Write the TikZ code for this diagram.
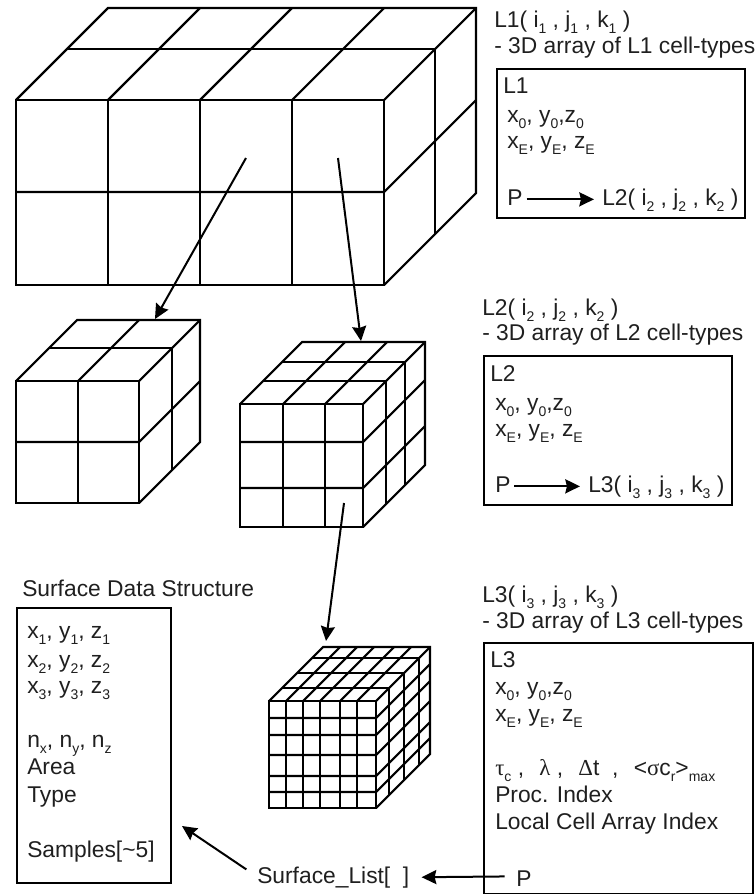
\documentclass[tikz,border=0pt]{standalone}
\usepackage{fontspec}
\setmainfont{Liberation Sans}
\newfontfamily\symbfont{Liberation Serif}
\usetikzlibrary{arrows.meta}
\def\idx#1{\raisebox{-0.5ex}{\fontsize{10.5}{10.5}\selectfont #1}}
\def\sym#1{{\symbfont #1}}
\tikzset{
    cellline/.style={line width=1.6pt, line join=miter},
    boxline/.style={line width=1.7pt},
    pointer/.style={line width=1.5pt, -{Stealth[length=11pt,width=10.5pt,inset=1.2pt]}},
    lbl/.style={anchor=base west, inner sep=0pt, text height=10pt, text depth=1.5pt,
        text=black!88, font=\fontsize{17.1}{18}\selectfont},
}
\newcommand{\cellcube}[8]{
    \draw[cellline] (#1,#3) rectangle (#2,#4);
    \draw[cellline] (#1,#3) -- ({#1+#5},{#3-#5}) -- ({#2+#5},{#3-#5}) -- ({#2+#5},{#4-#5}) -- (#2,#4);
    \draw[cellline] (#2,#3) -- ({#2+#5},{#3-#5});
    \foreach \cx in {#6} {
        \draw[cellline] (\cx,#3) -- (\cx,#4);
        \draw[cellline] (\cx,#3) -- ({\cx+#5},{#3-#5});
    }
    \foreach \cy in {#7} {
        \draw[cellline] (#1,\cy) -- (#2,\cy) -- ({#2+#5},{\cy-#5});
    }
    \foreach \cd in {#8} {
        \draw[cellline] ({#1+\cd},{#3-\cd}) -- ({#2+\cd},{#3-\cd}) -- ({#2+\cd},{#4-\cd});
    }
}

\begin{document}
\begin{tikzpicture}[x=0.75pt,y=-0.75pt]
        \useasboundingbox (0,0) rectangle (756,894);

        \cellcube{16}{384}{100}{285}{92}{108,200,292}{192}{51}
        \cellcube{16}{139}{381}{503}{61}{78}{442}{33}
        \cellcube{240}{363}{404}{527}{62}{283,325}{442,488}{23,42}
        \cellcube{269}{376}{701}{808}{54}{286,303,320,340,357}{718,735,755,776,792}{13,28,43}

        \coordinate (cellone) at (246,158);
        \coordinate (cubetwo) at (155,319);
        \coordinate (celltwo) at (338,158);
        \coordinate (cubethree) at (361,341);
        \coordinate (cellthree) at (344,503);
        \coordinate (cubefour) at (326,641);
        \coordinate (surfend) at (182,826);
        \draw[pointer] (cellone) -- (cubetwo);
        \draw[pointer] (celltwo) -- (cubethree);
        \draw[pointer] (cellthree) -- (cubefour);

        \node[lbl] (headone) at (494,27) {L1( i\idx{1} , j\idx{1} , k\idx{1} )};
        \node[lbl] (arrayone) at (494,53) {- 3D array of L1 cell-types};
        \node[boxline,draw,minimum width=186pt,minimum height=111.75pt,anchor=north west] (boxone) at (496,68) {};
        \node[lbl] (nameone) at (503,93) {L1};
        \node[lbl] (startone) at (507,122) {x\idx{0}, y\idx{0},z\idx{0}};
        \node[lbl] (endone) at (507,148) {x\idx{E}, y\idx{E}, z\idx{E}};
        \node[lbl] (pone) at (507,205) {P};
        \node[lbl] (refone) at (602,205) {L2( i\idx{2} , j\idx{2} , k\idx{2} )};
        \draw[pointer,shorten <=3pt,shorten >=6pt] (pone.east) -- (refone.west);

        \node[lbl] (headtwo) at (482,315) {L2( i\idx{2} , j\idx{2} , k\idx{2} )};
        \node[lbl] (arraytwo) at (482,340) {- 3D array of L2 cell-types};
        \node[boxline,draw,minimum width=186pt,minimum height=111.75pt,anchor=north west] (boxtwo) at (483,355) {};
        \node[lbl] (nametwo) at (490,381) {L2};
        \node[lbl] (starttwo) at (495,410) {x\idx{0}, y\idx{0},z\idx{0}};
        \node[lbl] (endtwo) at (495,436) {x\idx{E}, y\idx{E}, z\idx{E}};
        \node[lbl] (ptwo) at (495,492) {P};
        \node[lbl] (reftwo) at (588,492) {L3( i\idx{3} , j\idx{3} , k\idx{3} )};
        \draw[pointer,shorten <=2.5pt,shorten >=6pt] (ptwo.east) -- (reftwo.west);

        \node[lbl] (headthree) at (482,602) {L3( i\idx{3} , j\idx{3} , k\idx{3} )};
        \node[lbl] (arraythree) at (482,628) {- 3D array of L3 cell-types};
        \node[boxline,draw,minimum width=201.75pt,minimum height=188.25pt,anchor=north west] (boxthree) at (483,642) {};
        \node[lbl] (namethree) at (490,667) {L3};
        \node[lbl] (startthree) at (495,694) {x\idx{0}, y\idx{0},z\idx{0}};
        \node[lbl] (endthree) at (495,721) {x\idx{E}, y\idx{E}, z\idx{E}};
        \node[lbl] (params) at (495,775) {\sym{τ}\idx{c} ,\ \ \hspace{2pt}\sym{λ} ,\ \ \hspace{2pt}\sym{Δ}t\ \ ,\ \ \hspace{2pt}<\sym{σ}c\idx{r}>\idx{max}};
        \node[lbl] (procindex) at (495,802) {Proc. Index};
        \node[lbl] (localindex) at (495,829) {Local Cell Array Index};
        \node[lbl] (pthree) at (516,886) {P};

        \node[lbl] (surfhead) at (22,596) {Surface Data Structure};
        \node[boxline,draw,minimum width=115.5pt,minimum height=206.25pt,anchor=north west] (surfbox) at (16,607) {};
        \node[lbl] (vertone) at (27,638) {x\idx{1}, y\idx{1}, z\idx{1}};
        \node[lbl] (verttwo) at (27,667) {x\idx{2}, y\idx{2}, z\idx{2}};
        \node[lbl] (vertthree) at (27,693) {x\idx{3}, y\idx{3}, z\idx{3}};
        \node[lbl] (normal) at (27,747) {n\idx{x}, n\idx{y}, n\idx{z}};
        \node[lbl] (area) at (27,774) {Area};
        \node[lbl] (type) at (27,802) {Type};
        \node[lbl] (samples) at (27,857) {Samples[\textasciitilde 5]};

        \node[lbl] (surflist) at (257,883) {Surface\_List[\ \ ]};
        \draw[pointer,shorten <=8.5pt,shorten >=9pt] ([yshift=3pt]pthree.west) -- (surflist.east);
        \draw[pointer] ([xshift=-8pt]surflist.north west) -- (surfend);
\end{tikzpicture}
\end{document}
